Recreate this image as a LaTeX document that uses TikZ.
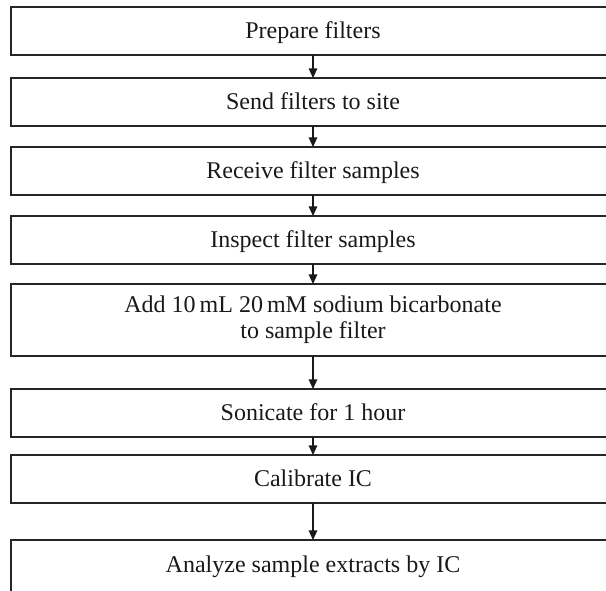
\documentclass[tikz,border=0pt]{standalone}
\usepackage{fontspec}
\setmainfont{Liberation Serif}
\usetikzlibrary{arrows.meta}
\begin{document}
\begin{tikzpicture}[x=1pt,y=1pt,
  boxbase/.style={draw=black!85, line width=1.2pt, rectangle, minimum width=604pt,
    inner sep=0pt, outer sep=0pt, text=black!90,
    font=\fontsize{24}{26}\selectfont},
  onel/.style={boxbase, text height=16pt, text depth=0pt},
  arr/.style={draw=black!90, line width=1.2pt, -{Triangle[length=9.5pt,width=8.5pt]}}]
\useasboundingbox (0,0) rectangle (606,590);
\node[onel, minimum height=48pt] (b1) at (313,559) {Prepare filters};
\node[onel, minimum height=48pt] (b2) at (313,488) {Send filters to site};
\node[onel, minimum height=48pt] (b3) at (313,419) {Receive filter samples};
\node[onel, minimum height=48pt] (b4) at (313,350) {Inspect filter samples};
\node[boxbase, align=center, minimum height=72pt] (b5) at (313,270) {Add 10\,mL 20\,mM sodium bicarbonate\\to sample filter};
\node[onel, minimum height=48pt] (b6) at (313,177) {Sonicate for 1 hour};
\node[onel, minimum height=48pt] (b7) at (313,111) {Calibrate IC};
\node[boxbase, minimum height=60pt, text height=16pt, text depth=12pt] (b8) at (313,20) {Analyze sample extracts by IC};
\draw[arr] (b1.south) -- (b2.north);
\draw[arr] (b2.south) -- (b3.north);
\draw[arr] (b3.south) -- (b4.north);
\draw[arr] (b4.south) -- (b5.north);
\draw[arr] (b5.south) -- (b6.north);
\draw[arr] (b6.south) -- (b7.north);
\draw[arr] (b7.south) -- (b8.north);
\end{tikzpicture}
\end{document}
